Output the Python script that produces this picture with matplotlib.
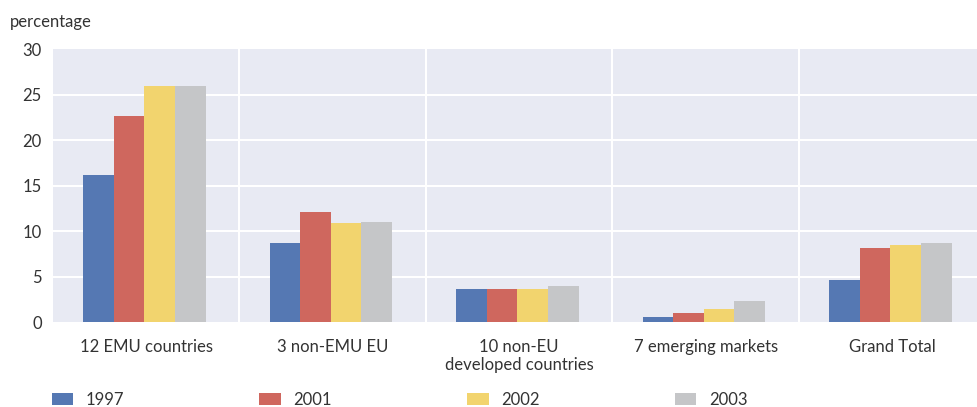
import matplotlib
matplotlib.use("Agg")
import matplotlib.pyplot as plt
import numpy as np

categories = ["12 EMU countries", "3 non-EMU EU", "10 non-EU\ndeveloped countries",
              "7 emerging markets", "Grand Total"]
years = ["1997", "2001", "2002", "2003"]
v1997 = [16.2, 8.7, 3.6, 0.55, 4.6]
v2001 = [22.6, 12.1, 3.6, 1.0, 8.1]
v2002 = [25.9, 10.9, 3.6, 1.4, 8.5]
v2003 = [25.9, 11.0, 4.0, 2.3, 8.7]
colors = ["#5578B3", "#CF675E", "#F2D46E", "#C5C6C8"]

plt.rcParams["font.family"] = ["Lato", "DejaVu Sans"]
txt = "#333333"

fig = plt.figure(figsize=(9.78, 4.07), dpi=100)
ax = fig.add_axes([0.0542, 0.2088, 0.9458, 0.6708])
ax.set_facecolor("#E8EAF3")

x = np.arange(len(categories))
w = 0.164
series = [v1997, v2001, v2002, v2003]
for i, (vals, c, yr) in enumerate(zip(series, colors, years)):
    ax.bar(x + (i - 1.5) * w - 0.01, vals, w, color=c, label=yr, zorder=3)

ax.set_ylim(0, 30)
ax.set_xlim(-0.5, 4.46)
ax.set_yticks([0, 5, 10, 15, 20, 25, 30])
for yv in [5, 10, 15, 20, 25]:
    ax.axhline(yv, color="white", lw=1.5, zorder=1)
for xv in [0.5, 1.5, 2.5, 3.5]:
    ax.axvline(xv, color="white", lw=1.5, zorder=1)
ax.set_xticks(x)
ax.set_xticklabels(categories, fontsize=12, color=txt, va="top", linespacing=1.15)
ax.tick_params(axis="x", length=0, pad=12)
ax.tick_params(axis="y", length=0, pad=8, labelsize=12, labelcolor=txt)
for s in ax.spines.values():
    s.set_visible(False)

fig.text(0.01, 0.945, "percentage", fontsize=12, color=txt, va="center")

fig.legend(loc="center left", bbox_to_anchor=(0.046, 0.018), ncol=4, frameon=False,
           fontsize=12, labelcolor=txt, handlelength=1.3, handleheight=0.7,
           handletextpad=0.75, columnspacing=8.1, borderaxespad=0)

fig.savefig("out.png", dpi=100)
